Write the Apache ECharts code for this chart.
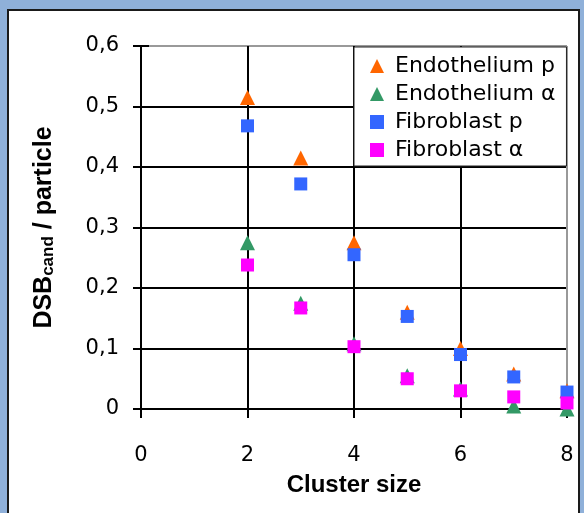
<!DOCTYPE html>
<html><head><meta charset="utf-8">
<script src="https://cdn.jsdelivr.net/npm/echarts@6/dist/echarts.min.js"></script>
<style>html,body{margin:0;padding:0;background:#8FB0D9;}#c{width:584px;height:513px;}</style>
</head><body><div id="c"></div>
<script>
const seriesNames = ['Endothelium p', 'Endothelium α', 'Fibroblast p', 'Fibroblast α'];
const clusterSizes = [2, 3, 4, 5, 6, 7, 8];
const endotheliumP = [0.515, 0.415, 0.275, 0.16, 0.10, 0.058, 0.03];
const endotheliumA = [0.275, 0.175, 0.108, 0.055, 0.033, 0.005, 0.0];
const fibroblastP = [0.468, 0.372, 0.255, 0.153, 0.090, 0.053, 0.028];
const fibroblastA = [0.238, 0.167, 0.103, 0.050, 0.030, 0.020, 0.010];
const yTicks = ['0', '0,1', '0,2', '0,3', '0,4', '0,5', '0,6'];
const xTicks = ['0', '2', '4', '6', '8'];

const colors = ['#FF6600', '#339966', '#3366FF', '#FF00FF'];
const symbols = ['triangle', 'triangle', 'rect', 'rect'];
const values = [endotheliumP, endotheliumA, fibroblastP, fibroblastA];

const chart = echarts.init(document.getElementById('c'));
const font = 'DejaVu Sans';
const innerTickAxis = (type, min, max, interval, len) => ({
  type: 'value', min, max, interval, position: type === 'x' ? 'bottom' : 'left',
  axisLine: { show: false }, axisLabel: { show: false }, splitLine: { show: false },
  axisTick: { show: true, inside: true, length: len, lineStyle: { color: '#000', width: 2 } }
});
chart.setOption({
  backgroundColor: '#8FB0D9',
  animation: false,
  graphic: [{
    type: 'rect', z: -10, silent: true,
    shape: { x: 8, y: 10, width: 571, height: 520 },
    style: { fill: '#fff', stroke: '#1a1a1a', lineWidth: 2 }
  }],
  grid: { left: 141, right: 17, top: 46, bottom: 104, containLabel: false },
  legend: {
    orient: 'vertical', left: 354, top: 47,
    backgroundColor: '#fff', borderColor: '#222', borderWidth: 1,
    padding: [8, 11, 5, 16], itemGap: 6, itemWidth: 14, itemHeight: 14,
    textStyle: { fontFamily: font, fontSize: 22, color: '#000', padding: [0, 0, 0, 6] },
    data: seriesNames
  },
  xAxis: [{
    type: 'value', min: 0, max: 8, interval: 2,
    name: 'Cluster size', nameLocation: 'middle', nameGap: 64,
    nameTextStyle: { fontFamily: 'Liberation Sans', fontWeight: 'bold', fontSize: 24, color: '#000' },
    axisLine: { show: true, onZero: false, lineStyle: { color: '#000', width: 2 } },
    axisTick: { show: true, length: 9, lineStyle: { color: '#000', width: 2 } },
    axisLabel: { margin: 36, fontFamily: font, fontSize: 21, color: '#000',
      formatter: (v) => xTicks[Math.round(v / 2)] },
    splitLine: { show: true, lineStyle: { color: ['#000', '#000', '#000', '#000', '#999'], width: 2 } }
  }, innerTickAxis('x', 0, 8, 2, 4)],
  yAxis: [{
    type: 'value', min: 0, max: 0.6, interval: 0.1,
    name: 'DSB{sub|cand} / particle', nameLocation: 'middle', nameGap: 84,
    nameTextStyle: { fontFamily: 'Liberation Sans', fontWeight: 'bold', fontSize: 25, color: '#000',
      rich: { sub: { fontFamily: 'Liberation Sans', fontWeight: 'bold', fontSize: 17, verticalAlign: 'bottom', padding: [9, 0, 0, 0] } } },
    axisLine: { show: true, onZero: false, lineStyle: { color: '#000', width: 2 } },
    axisTick: { show: true, length: 8, lineStyle: { color: '#000', width: 2 } },
    axisLabel: { margin: 22, fontFamily: font, fontSize: 21, color: '#000',
      formatter: (v) => yTicks[Math.round(v * 10)] },
    splitLine: { show: true, lineStyle: { color: ['#000', '#000', '#000', '#000', '#000', '#000', '#999'], width: 2 } }
  }, innerTickAxis('y', 0, 0.6, 0.1, 8)],
  series: seriesNames.map((n, i) => ({
    name: n, type: 'scatter', symbol: symbols[i],
    symbolSize: symbols[i] === 'triangle' ? 15 : 13,
    itemStyle: { color: colors[i], opacity: 1 },
    z: i + 2,
    data: clusterSizes.map((x, j) => [x, values[i][j]])
  }))
});
</script></body></html>
